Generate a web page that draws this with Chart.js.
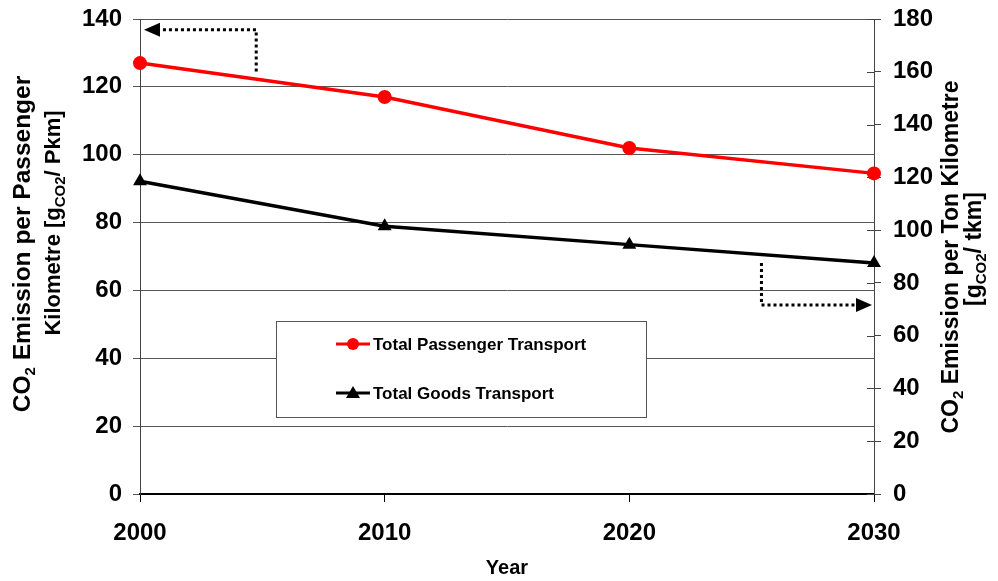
<!DOCTYPE html>
<html>
<head>
<meta charset="utf-8">
<script src="https://cdn.jsdelivr.net/npm/chart.js@4"></script>
<style>
  html, body { margin: 0; padding: 0; background: #fff; }
  #chart { display: block; }
</style>
</head>
<body>
<canvas id="chart" width="998" height="581"></canvas>
<script>
// data
const years = [2000, 2010, 2020, 2030];
const passengerValues = [127, 117, 102, 94.5];   // left axis, g/Pkm
const goodsValues = [118.5, 101.5, 94.5, 87.5];  // right axis, g/tkm
const leftTicks = [0, 140, 20];   // min, max, step
const rightTicks = [0, 180, 20];
const seriesNames = ['Total Passenger Transport', 'Total Goods Transport'];

// dotted arrows (data units): pointing each line to its axis
const leftArrow = { x: 2004.75, yStart: 124.5, yCorner: 136.8, xEnd: 2000 };
const rightArrow = { x: 2025.4, yStart: 87.5, yCorner: 71.6, xEnd: 2030 };

const FONT = '"Liberation Sans", Arial, sans-serif';

function drawRotated(ctx, parts, cx, cy) {
    // parts: [text, size, shift]
    ctx.save();
    ctx.translate(cx, cy);
    ctx.rotate(-Math.PI / 2);
    ctx.textBaseline = 'alphabetic';
    ctx.textAlign = 'left';
    let total = 0;
    parts.forEach(p => {
        ctx.font = 'bold ' + p[1] + 'px ' + FONT;
        total += ctx.measureText(p[0]).width;
    });
    let x = -total / 2;
    parts.forEach(p => {
        ctx.font = 'bold ' + p[1] + 'px ' + FONT;
        ctx.fillText(p[0], x, p[2] || 0);
        x += ctx.measureText(p[0]).width;
    });
    ctx.restore();
}

function dottedArrow(ctx, x1, y1, x2, y2, x3, y3) {
    ctx.save();
    ctx.strokeStyle = '#000';
    ctx.lineWidth = 3;
    ctx.setLineDash([3, 3]);
    const dir = Math.sign(x3 - x2);
    ctx.beginPath();
    ctx.moveTo(x1, y1);
    ctx.lineTo(x2, y2);
    ctx.lineTo(x3 - dir * 16, y3);
    ctx.stroke();
    ctx.setLineDash([]);
    ctx.fillStyle = '#000';
    ctx.beginPath();
    ctx.moveTo(x3, y3);
    ctx.lineTo(x3 - dir * 16, y3 - 7);
    ctx.lineTo(x3 - dir * 16, y3 + 7);
    ctx.closePath();
    ctx.fill();
    ctx.restore();
}

function noPad(s) {
    s.paddingTop = 0;
    s.paddingBottom = 0;
    s.paddingLeft = 0;
    s.paddingRight = 0;
}

const extrasPlugin = {
    id: 'extras',
    afterDatasetsDraw(chart) {
        const ctx = chart.ctx;
        const xs = chart.scales.x, yl = chart.scales.y, yr = chart.scales.y2;

        // inward half of the right axis ticks
        ctx.save();
        ctx.strokeStyle = '#444';
        ctx.lineWidth = 1;
        yr.ticks.forEach(t => {
            const py = Math.round(yr.getPixelForValue(t.value)) + 0.5;
            ctx.beginPath();
            ctx.moveTo(yr.left - 7, py);
            ctx.lineTo(yr.left, py);
            ctx.stroke();
        });
        ctx.restore();

        // arrows
        const la = leftArrow;
        dottedArrow(ctx,
            xs.getPixelForValue(la.x), yl.getPixelForValue(la.yStart),
            xs.getPixelForValue(la.x), yl.getPixelForValue(la.yCorner),
            xs.getPixelForValue(la.xEnd) + 4, yl.getPixelForValue(la.yCorner));
        const ra = rightArrow;
        dottedArrow(ctx,
            xs.getPixelForValue(ra.x), yr.getPixelForValue(ra.yStart),
            xs.getPixelForValue(ra.x), yr.getPixelForValue(ra.yCorner),
            xs.getPixelForValue(ra.xEnd) - 2, yr.getPixelForValue(ra.yCorner));

        // legend box
        ctx.save();
        ctx.fillStyle = '#fff';
        ctx.fillRect(276, 321, 371, 97);
        ctx.strokeStyle = '#555';
        ctx.lineWidth = 1;
        ctx.strokeRect(276.5, 321.5, 370, 96);
        chart.data.datasets.forEach((ds, i) => {
            const y = 344 + i * 49;
            ctx.strokeStyle = ds.borderColor;
            ctx.lineWidth = 3;
            ctx.beginPath();
            ctx.moveTo(336, y);
            ctx.lineTo(370, y);
            ctx.stroke();
            ctx.fillStyle = ds.backgroundColor;
            ctx.beginPath();
            if (ds.pointStyle === 'triangle') {
                ctx.moveTo(353, y - 7);
                ctx.lineTo(360, y + 5);
                ctx.lineTo(346, y + 5);
                ctx.closePath();
            } else {
                ctx.arc(353, y, 6, 0, Math.PI * 2);
            }
            ctx.fill();
            ctx.fillStyle = '#000';
            ctx.font = 'bold 17px ' + FONT;
            ctx.textBaseline = 'middle';
            ctx.textAlign = 'left';
            ctx.fillText(ds.label, 373, y + 1);
        });
        ctx.restore();

        // axis titles
        ctx.save();
        ctx.fillStyle = '#000';
        drawRotated(ctx, [['CO', 24.5], ['2', 15, 5], [' Emission per Passenger', 24.5]], 30, 244);
        drawRotated(ctx, [['Kilometre [g', 22], ['CO2', 15, 5], ['/ Pkm]', 22]], 60, 223);
        drawRotated(ctx, [['CO', 23], ['2', 15, 5], [' Emission per Ton Kilometre', 23]], 958, 257);
        drawRotated(ctx, [['[g', 23], ['CO2', 15, 5], ['/ tkm]', 23]], 981, 249);
        ctx.font = 'bold 20px ' + FONT;
        ctx.textAlign = 'center';
        ctx.textBaseline = 'middle';
        ctx.fillText('Year', (xs.left + xs.right) / 2, 568);
        ctx.restore();
    }
};

const ctxChart = document.getElementById('chart').getContext('2d');
const emissionChart = new Chart(ctxChart, {
    type: 'line',
    data: {
        labels: years,
        datasets: [
            {
                label: seriesNames[0],
                data: years.map((yr, i) => ({ x: yr, y: passengerValues[i] })),
                yAxisID: 'y',
                borderColor: '#ff0000',
                backgroundColor: '#ff0000',
                borderWidth: 3.5,
                pointStyle: 'circle',
                pointRadius: 7,
                pointBorderWidth: 0,
                tension: 0,
                clip: false
            },
            {
                label: seriesNames[1],
                data: years.map((yr, i) => ({ x: yr, y: goodsValues[i] })),
                yAxisID: 'y2',
                borderColor: '#000000',
                backgroundColor: '#000000',
                borderWidth: 3.5,
                pointStyle: 'triangle',
                pointRadius: 8,
                pointBorderWidth: 0,
                tension: 0,
                clip: false
            }
        ]
    },
    options: {
        responsive: false,
        animation: false,
        layout: { padding: { top: 19, left: 0, right: 0, bottom: 0 } },
        plugins: {
            legend: { display: false },
            tooltip: { enabled: false }
        },
        scales: {
            x: {
                type: 'linear',
                min: years[0],
                max: years[years.length - 1],
                afterFit: s => { s.height = 87; noPad(s); },
                afterBuildTicks: s => { s.ticks = years.map(v => ({ value: v })); },
                ticks: {
                    callback: v => String(v),
                    color: '#000',
                    font: { family: FONT, size: 24, weight: 'bold' },
                    padding: 17,
                    maxRotation: 0
                },
                grid: { drawOnChartArea: false, tickLength: 8, color: '#000', lineWidth: 1 },
                border: { color: '#000', width: 2 }
            },
            y: {
                position: 'left',
                min: leftTicks[0],
                max: leftTicks[1],
                afterFit: s => { s.width = 140; noPad(s); },
                ticks: {
                    stepSize: leftTicks[2],
                    color: '#000',
                    font: { family: FONT, size: 24, weight: 'bold' },
                    padding: 11
                },
                grid: { color: '#555', lineWidth: 1, tickLength: 7 },
                border: { color: '#444', width: 1 }
            },
            y2: {
                position: 'right',
                min: rightTicks[0],
                max: rightTicks[1],
                afterFit: s => { s.width = 124; noPad(s); },
                ticks: {
                    stepSize: rightTicks[2],
                    color: '#000',
                    font: { family: FONT, size: 24, weight: 'bold' },
                    padding: 12
                },
                grid: { drawOnChartArea: false, color: '#444', lineWidth: 1, tickLength: 7 },
                border: { color: '#444', width: 1 }
            }
        }
    },
    plugins: [extrasPlugin]
});
</script>
</body>
</html>
